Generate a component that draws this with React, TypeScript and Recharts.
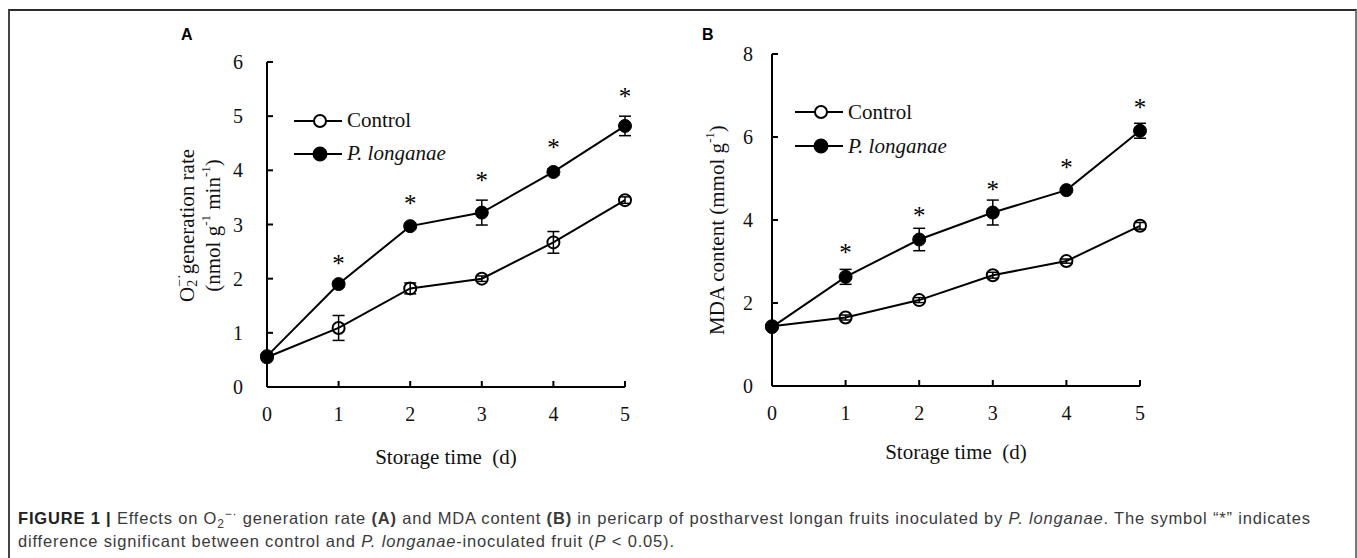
import React from "react";
import { LineChart, Line, XAxis, YAxis, ErrorBar, Legend } from "recharts";

// storage days
const days = [0, 1, 2, 3, 4, 5];

// panel A: O2- generation rate
const o2Control = [0.55, 1.09, 1.82, 2.0, 2.67, 3.45];
const o2ControlErr = [0.03, 0.23, 0.1, 0.05, 0.2, 0.06];
const o2Longanae = [0.57, 1.9, 2.97, 3.22, 3.97, 4.82];
const o2LonganaeErr = [0.03, 0.05, 0.05, 0.23, 0.06, 0.18];
const o2Star = [null, 2.35, 3.46, 3.89, 4.5, 5.43];
const o2Ticks = [0, 1, 2, 3, 4, 5, 6];

// panel B: MDA content
const mdaControl = [1.44, 1.65, 2.07, 2.67, 3.01, 3.86];
const mdaControlErr = [0.03, 0.06, 0.06, 0.07, 0.05, 0.08];
const mdaLonganae = [1.42, 2.63, 3.53, 4.18, 4.72, 6.15];
const mdaLonganaeErr = [0.03, 0.18, 0.27, 0.3, 0.05, 0.18];
const mdaStar = [null, 3.31, 4.2, 4.84, 5.35, 6.81];
const mdaTicks = [0, 2, 4, 6, 8];

const SERIF = '"Liberation Serif", "Times New Roman", serif';
const SANS = '"Liberation Sans", Arial, Helvetica, sans-serif';

const buildRows = (
  ctrl: number[], ctrlErr: number[], path: number[], pathErr: number[], star: (number | null)[],
) => days.map((d, i) => ({
  day: d, ctrl: ctrl[i], ctrlErr: ctrlErr[i], path: path[i], pathErr: pathErr[i], star: star[i],
}));

const XTick = (props: any) => {
  const { x, y, payload } = props;
  return (
    <g>
      <line x1={x} y1={y} x2={x} y2={y - 6} stroke="#000" strokeWidth={2} />
      <text x={x} y={y + 27} dy="0.35em" textAnchor="middle" fontFamily={SERIF} fontSize={20} fill="#111">
        {payload.value}
      </text>
    </g>
  );
};

const makeYTick = (gap: number) => (props: any) => {
  const { x, y, payload } = props;
  return (
    <g>
      <line x1={x} y1={y} x2={x + 6} y2={y} stroke="#000" strokeWidth={2} />
      <text x={x - gap} y={y} dy="0.35em" textAnchor="end" fontFamily={SERIF} fontSize={20} fill="#111">
        {payload.value}
      </text>
    </g>
  );
};

const StarDot = (props: any) => {
  const { cx, cy, value } = props;
  if (value == null || cx == null || cy == null) return null;
  return (
    <text x={cx} y={cy} dy="0.5em" textAnchor="middle" fontFamily={SERIF} fontSize={25} fill="#000">*</text>
  );
};

const OpenDot = (props: any) => {
  const { cx, cy } = props;
  return <circle cx={cx} cy={cy} r={6} fill="none" stroke="#000" strokeWidth={2} />;
};

const FilledDot = (props: any) => {
  const { cx, cy } = props;
  return <circle cx={cx} cy={cy} r={6.5} fill="#000" stroke="#000" strokeWidth={1} />;
};

const LegendBox = ({ rowH }: { rowH: number }) => (
  <div style={{ fontFamily: SERIF, fontSize: 21, color: "#111" }}>
    {[
      { name: "Control", filled: false },
      { name: "P. longanae", filled: true },
    ].map((s) => (
      <div key={s.name} style={{ display: "flex", alignItems: "center", height: rowH, whiteSpace: "nowrap" }}>
        <svg width={50} height={16} style={{ marginRight: 3 }}>
          <line x1={0} y1={8} x2={48} y2={8} stroke="#000" strokeWidth={2} />
          <circle cx={26} cy={8} r={s.filled ? 6.5 : 6} fill={s.filled ? "#000" : "#fff"} stroke="#000" strokeWidth={2} />
        </svg>
        <span style={{ fontStyle: s.filled ? "italic" : "normal" }}>{s.name}</span>
      </div>
    ))}
  </div>
);

const YTitleA = (props: any) => {
  const vb = props.viewBox;
  const cy = vb.y + vb.height / 2 + 1;
  const x1 = vb.x + 37;
  const x2 = vb.x + 63;
  return (
    <g fontFamily={SERIF} fontSize={21} fill="#111" style={{ whiteSpace: "pre" }}>
      <text x={x1} y={cy} textAnchor="middle" dominantBaseline="central" transform={`rotate(-90, ${x1}, ${cy})`}>
        O<tspan fontSize={14} dy={5}>2</tspan>
        <tspan fontSize={14} dx={-7} dy={-13}>−·</tspan>
        <tspan dy={8}>generation   rate</tspan>
      </text>
      <text x={x2} y={cy} textAnchor="middle" dominantBaseline="central" transform={`rotate(-90, ${x2}, ${cy})`}>
        (nmol g<tspan fontSize={13} dy={-8}>-1</tspan>
        <tspan dy={8}> min</tspan><tspan fontSize={13} dy={-8}>-1</tspan>
        <tspan dy={8}>)</tspan>
      </text>
    </g>
  );
};

const YTitleB = (props: any) => {
  const vb = props.viewBox;
  const cy = vb.y + vb.height / 2 + 10;
  const x1 = vb.x + 27;
  return (
    <text x={x1} y={cy} textAnchor="middle" dominantBaseline="central" transform={`rotate(-90, ${x1}, ${cy})`}
      fontFamily={SERIF} fontSize={21} fill="#111">
      MDA content (mmol g<tspan fontSize={13} dy={-8}>-1</tspan><tspan dy={8}>)</tspan>
    </text>
  );
};

const xTitle = (offset: number) => (props: any) => {
  const vb = props.viewBox;
  return (
    <text x={vb.x + vb.width / 2} y={vb.y + offset} dy="0.35em" textAnchor="middle" fontFamily={SERIF}
      fontSize={21} fill="#111" style={{ whiteSpace: "pre" }}>
      Storage time  (d)
    </text>
  );
};

interface PanelProps {
  rows: ReturnType<typeof buildRows>;
  width: number;
  height: number;
  margin: { top: number; right: number; bottom: number; left: number };
  yWidth: number;
  yMax: number;
  yTicks: number[];
  yGap: number;
  yTitle: (p: any) => React.ReactNode;
  xTitleOffset: number;
  legendPos: { left: number; top: number; rowH: number };
}

function Panel(p: PanelProps) {
  return (
    <LineChart width={p.width} height={p.height} data={p.rows} margin={p.margin}>
      <XAxis
        type="number" dataKey="day" domain={[0, 5]} ticks={days} height={70}
        tickSize={0} tickMargin={0} tickLine={false} tick={<XTick />}
        axisLine={{ stroke: "#000", strokeWidth: 2 }}
        label={{ content: xTitle(p.xTitleOffset) }}
      />
      <YAxis
        type="number" domain={[0, p.yMax]} ticks={p.yTicks} width={p.yWidth}
        tickSize={0} tickMargin={0} tickLine={false} tick={makeYTick(p.yGap)}
        axisLine={{ stroke: "#000", strokeWidth: 2 }}
        label={{ content: p.yTitle }}
      />
      <Legend
        layout="vertical" align="center" verticalAlign="middle"
        wrapperStyle={{ left: p.legendPos.left, top: p.legendPos.top, width: 220 }}
        content={() => <LegendBox rowH={p.legendPos.rowH} />}
      />
      <Line type="linear" dataKey="ctrl" name="Control" stroke="#000" strokeWidth={2}
        dot={<OpenDot />} activeDot={false} isAnimationActive={false}>
        <ErrorBar dataKey="ctrlErr" width={6} stroke="#000" strokeWidth={1.5} direction="y" />
      </Line>
      <Line type="linear" dataKey="path" name="P. longanae" stroke="#000" strokeWidth={2}
        dot={<FilledDot />} activeDot={false} isAnimationActive={false}>
        <ErrorBar dataKey="pathErr" width={6} stroke="#000" strokeWidth={1.5} direction="y" />
      </Line>
      <Line type="linear" dataKey="star" stroke="none" legendType="none"
        dot={<StarDot />} activeDot={false} isAnimationActive={false} />
    </LineChart>
  );
}

export default function App() {
  const rowsA = buildRows(o2Control, o2ControlErr, o2Longanae, o2LonganaeErr, o2Star);
  const rowsB = buildRows(mdaControl, mdaControlErr, mdaLonganae, mdaLonganaeErr, mdaStar);

  const subSup = { fontSize: 12, lineHeight: 0, position: "relative" as const };

  return (
    <div style={{ position: "absolute", left: 0, top: 0, width: 1357, height: 558, background: "#fff", overflow: "hidden" }}>
      <div style={{
        position: "absolute", left: 8, top: 9, width: 1345, height: 600,
        borderTop: "2px solid #2b2b2b", borderLeft: "2px solid #444", borderRight: "2px solid #777",
      }} />

      <div style={{ position: "absolute", left: 181, top: 26, fontFamily: SANS, fontWeight: 700, fontSize: 16 }}>A</div>
      <div style={{ position: "absolute", left: 702, top: 26, fontFamily: SANS, fontWeight: 700, fontSize: 16 }}>B</div>

      <div style={{ position: "absolute", left: 150, top: 20 }}>
        <Panel
          rows={rowsA} width={500} height={460}
          margin={{ top: 42, right: 25, bottom: 23, left: 0 }}
          yWidth={117} yMax={6} yTicks={o2Ticks} yGap={24}
          yTitle={YTitleA} xTitleOffset={70}
          legendPos={{ left: 144, top: 84, rowH: 33 }}
        />
      </div>

      <div style={{ position: "absolute", left: 690, top: 20 }}>
        <Panel
          rows={rowsB} width={480} height={460}
          margin={{ top: 34, right: 30, bottom: 24, left: 0 }}
          yWidth={82} yMax={8} yTicks={mdaTicks} yGap={19}
          yTitle={YTitleB} xTitleOffset={66}
          legendPos={{ left: 105, top: 75, rowH: 34 }}
        />
      </div>

      <div style={{
        position: "absolute", left: 18, top: 507, fontFamily: SANS, fontSize: 16.5, lineHeight: "23px",
        letterSpacing: "0.82px", color: "#3a3a3a", whiteSpace: "nowrap",
      }}>
        <b style={{ color: "#222" }}>FIGURE 1 |</b> Effects on O<span style={{ ...subSup, top: 4 }}>2</span>
        <span style={{ ...subSup, top: -6 }}>−·</span> generation rate <b>(A)</b> and MDA content <b>(B)</b> in
        pericarp of postharvest longan fruits inoculated by <i>P. longanae</i>. The symbol “*” indicates
        <br />
        difference significant between control and <i>P. longanae</i>-inoculated fruit (<i>P</i> &lt; 0.05).
      </div>
    </div>
  );
}
